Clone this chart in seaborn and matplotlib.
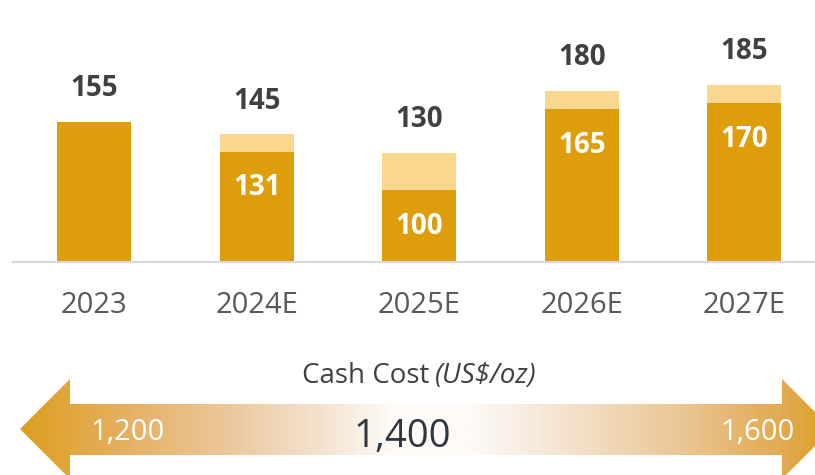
import numpy as np
import matplotlib
matplotlib.use("Agg")
import matplotlib.pyplot as plt
from matplotlib.patches import Polygon
import pandas as pd
import seaborn as sns

# Production guidance (koz): base case and upper range
years = ["2023", "2024E", "2025E", "2026E", "2027E"]
base_values = [155, 131, 100, 165, 170]
total_values = [155, 145, 130, 180, 185]
base_labels = [None, "131", "100", "165", "170"]

# Cash cost range (US$/oz)
cost_low, cost_mid, cost_high = "1,200", "1,400", "1,600"
cost_title = "Cash Cost"
cost_unit = "(US$/oz)"

DARK = "#DE9E0B"
LIGHT = "#FAD78E"
TEXT = "#404040"
TICK = "#595959"

sns.set_theme(style="white")
plt.rcParams["font.family"] = ["Open Sans", "DejaVu Sans"]

W, H = 815, 475
fig = plt.figure(figsize=(W / 100, H / 100), dpi=100)

df = pd.DataFrame({"year": years, "base": base_values, "total": total_values})

# Bar axes: baseline at y=262 px, spanning the figure width
ax = fig.add_axes([13 / W, (H - 262) / H, (W - 13) / W, 262 / H])
sns.barplot(data=df, x="year", y="total", color=LIGHT, width=0.455,
            saturation=1, linewidth=0, ax=ax)
sns.barplot(data=df, x="year", y="base", color=DARK, width=0.455,
            saturation=1, linewidth=0, ax=ax)

ymin = 42
ax.set_ylim(ymin, ymin + 262 / 1.24)
ax.set_xlim(-0.5, -0.5 + (W - 13) / 162.5)

for s in ["top", "right", "left"]:
    ax.spines[s].set_visible(False)
ax.spines["bottom"].set_color("#D9D9D9")
ax.spines["bottom"].set_linewidth(1.5)
ax.set_yticks([])
ax.set_xlabel("")
ax.set_ylabel("")
ax.tick_params(axis="x", length=0, pad=21, labelsize=21, labelcolor=TICK)

for i, (tot, lab, b) in enumerate(zip(total_values, base_labels, base_values)):
    ax.annotate(str(tot), (i, tot), xytext=(0, 33), textcoords="offset pixels",
                ha="center", va="center", fontsize=20, fontweight="bold",
                color=TEXT)
    if lab is not None:
        ax.annotate(lab, (i, b), xytext=(0, -36), textcoords="offset pixels",
                    ha="center", va="center", fontsize=20, fontweight="bold",
                    color="white")

# Overlay in pixel coordinates for the cost range arrow
ov = fig.add_axes([0, 0, 1, 1], zorder=5)
ov.set_xlim(0, W)
ov.set_ylim(H, 0)
ov.axis("off")
ov.patch.set_alpha(0)

arrow_pts = [(20, 429), (70, 379), (70, 404), (782, 404), (782, 379),
             (832, 429), (782, 479), (782, 455), (70, 455), (70, 479)]
arrow = Polygon(arrow_pts, closed=True, facecolor="none", edgecolor="none",
                transform=ov.transData)
ov.add_patch(arrow)

stops_x = [20, 120, 230, 320, 390, 470, 560, 680, 790, 832]
stops_c = [(222, 158, 30), (228, 175, 95), (236, 200, 158), (244, 226, 208),
           (253, 250, 247), (253, 250, 247), (245, 228, 210), (235, 198, 150),
           (225, 168, 75), (222, 158, 30)]
xs = np.arange(0, W + 1)
grad = np.zeros((1, len(xs), 3))
for ch in range(3):
    grad[0, :, ch] = np.interp(xs, stops_x, [c[ch] for c in stops_c]) / 255
img = ov.imshow(grad, extent=(0, W + 1, 485, 370), aspect="auto",
                interpolation="bilinear", zorder=1)
img.set_clip_path(arrow)

ov.text(429, 376, cost_title, ha="right", va="center", fontsize=20,
        color=TEXT, zorder=3)
ov.text(435, 376, cost_unit, ha="left", va="center", fontsize=20,
        style="italic", color=TEXT, zorder=3)
ov.text(127, 432, cost_low, ha="center", va="center", fontsize=21,
        color="white", zorder=3)
ov.text(757, 432, cost_high, ha="center", va="center", fontsize=21,
        color="white", zorder=3)
ov.text(402, 437, cost_mid, ha="center", va="center", fontsize=27.5,
        color="#2F3640", zorder=3)

fig.savefig("out.png", dpi=100)
